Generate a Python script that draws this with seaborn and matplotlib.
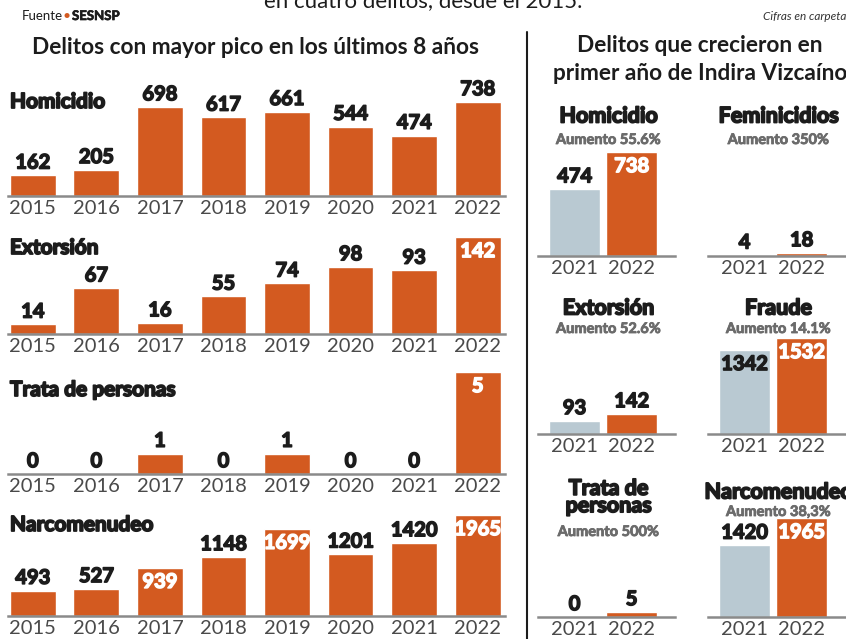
import matplotlib
matplotlib.use("Agg")
import matplotlib.pyplot as plt
import matplotlib.patheffects as pe
import seaborn as sns
import pandas as pd

# datos
years = ["2015", "2016", "2017", "2018", "2019", "2020", "2021", "2022"]
homicidio = [162, 205, 698, 617, 661, 544, 474, 738]
extorsion = [14, 67, 16, 55, 74, 98, 93, 142]
trata = [0, 0, 1, 0, 1, 0, 0, 5]
narcomenudeo = [493, 527, 939, 1148, 1699, 1201, 1420, 1965]

years_pair = ["2021", "2022"]
fem_pair = [4, 18]
fraude_pair = [1342, 1532]
aumentos = {
    "Homicidio": "Aumento 55.6%",
    "Feminicidios": "Aumento 350%",
    "Extorsión": "Aumento 52.6%",
    "Fraude": "Aumento 14.1%",
    "Trata de\npersonas": "Aumento 500%",
    "Narcomenudeo": "Aumento 38,3%",
}

ORANGE = "#d35a20"
GRAY = "#b9c9d2"
DARK = "#1c1c1c"
W, H = 846, 639

sns.set_theme(style="white")
plt.rcParams["font.family"] = ["Lato", "DejaVu Sans"]

fig = plt.figure(figsize=(W / 100, H / 100), dpi=100)


def fx(x):
    return x / W


def fy(y):
    return 1 - y / H


def heavy(color, lw=1.0):
    return [pe.withStroke(linewidth=lw, foreground=color)]


def style_ax(ax):
    ax.patch.set_alpha(0)
    for s in ["top", "left", "right"]:
        ax.spines[s].set_visible(False)
    ax.spines["bottom"].set_color("#8a8a8a")
    ax.spines["bottom"].set_linewidth(1.8)
    ax.set_yticks([])
    ax.set_ylabel("")
    ax.set_xlabel("")
    ax.tick_params(axis="x", length=0, pad=3, labelsize=14.5, labelcolor="#4a4a4a")


def put_label(ax, i, v, inside, color):
    if inside:
        ax.annotate(str(v), (i, v), xytext=(0, -3), textcoords="offset points",
                    ha="center", va="top", color=color, fontsize=14.5,
                    fontweight="bold", path_effects=heavy(color, 1.1))
    else:
        ax.annotate(str(v), (i, v), xytext=(0, 2), textcoords="offset points",
                    ha="center", va="bottom", color=color, fontsize=14.5,
                    fontweight="bold", path_effects=heavy(color, 1.1))


# panel izquierdo
left_rows = [
    ("Homicidio", homicidio, 196, 94, 102, []),
    ("Extorsión", extorsion, 334, 97, 248, [7]),
    ("Trata de personas", trata, 474, 102, 390, [7]),
    ("Narcomenudeo", narcomenudeo, 616, 101, 525, [2, 4, 7]),
]
for name, vals, base, pxmax, ylab, inside in left_rows:
    ax = fig.add_axes([fx(8), (H - base) / H, (505 - 8) / W, 110 / H])
    df = pd.DataFrame({"year": years, "value": vals})
    sns.barplot(data=df, x="year", y="value", color=ORANGE, width=0.72,
                saturation=1, ax=ax)
    ax.set_xlim(-0.39, 7.43)
    ax.set_ylim(0, max(vals) * 110 / pxmax)
    style_ax(ax)
    for i, v in enumerate(vals):
        put_label(ax, i, v, i in inside, "white" if i in inside else DARK)
    fig.text(fx(10), fy(ylab), name, ha="left", va="center", fontsize=15,
             fontweight="bold", color=DARK, path_effects=heavy(DARK, 1.3))

# panel derecho
right_charts = [
    ("Homicidio", homicidio[-2:], 538, 675, 256, 104, 116, 140, [1]),
    ("Feminicidios", fem_pair, 708, 845, 256, 3, 116, 140, []),
    ("Extorsión", extorsion[-2:], 538, 675, 434, 20, 308, 329, []),
    ("Fraude", fraude_pair, 708, 845, 434, 96, 308, 329, [0, 1]),
    ("Trata de\npersonas", trata[-2:], 538, 675, 617, 5, 497, 532, []),
    ("Narcomenudeo", narcomenudeo[-2:], 708, 845, 617, 99, 492, 512, [1]),
]
for name, vals, x0, x1, base, pxmax, yt, ya, inside in right_charts:
    ax = fig.add_axes([fx(x0), (H - base) / H, (x1 - x0) / W, 110 / H])
    df = pd.DataFrame({"year": years_pair, "value": vals})
    sns.barplot(data=df, x="year", y="value", hue="year", palette=[GRAY, ORANGE],
                width=0.895, saturation=1, legend=False, ax=ax)
    ax.set_xlim(-0.64, 1.76)
    ax.set_ylim(0, max(vals) * 110 / pxmax)
    style_ax(ax)
    for i, v in enumerate(vals):
        col = "white" if (i in inside and i == 1) else DARK
        put_label(ax, i, v, i in inside, col)
    cx = (x0 + x1) / 2 + 2
    fig.text(fx(cx), fy(yt), name, ha="center", va="center", fontsize=15.5,
             fontweight="bold", color=DARK, linespacing=0.78,
             path_effects=heavy(DARK, 1.3))
    fig.text(fx(cx), fy(ya), aumentos[name], ha="center", va="center", fontsize=10.5,
             fontweight="bold", color="#6b6b6b", path_effects=heavy("#6b6b6b", 0.6))

# títulos y notas
fig.text(fx(255), fy(47), "Delitos con mayor pico en los últimos 8 años",
         ha="center", va="center", fontsize=16.3, fontweight="bold", color=DARK)
fig.text(fx(700), fy(45), "Delitos que crecieron en", ha="center", va="center",
         fontsize=16.3, fontweight="bold", color=DARK)
fig.text(fx(700), fy(73), "primer año de Indira Vizcaíno", ha="center", va="center",
         fontsize=16.3, fontweight="bold", color=DARK)
fig.text(fx(423), fy(7), "en cuatro delitos, desde el 2015.", ha="center",
         va="baseline", fontsize=16, color=DARK)
fig.text(fx(22), fy(16), "Fuente", ha="left", va="center", fontsize=9.5, color=DARK)
fig.text(fx(62), fy(16), "•", ha="left", va="center", fontsize=10, color=ORANGE)
fig.text(fx(72), fy(16), "SESNSP", ha="left", va="center", fontsize=9.5,
         fontweight="bold", color=DARK, path_effects=heavy(DARK, 0.5))
fig.text(fx(846), fy(16), "Cifras en carpeta", ha="right", va="center", fontsize=8.5,
         style="italic", color="#333333")
fig.add_artist(plt.Line2D([fx(527), fx(527)], [fy(32), fy(639)], color=DARK, lw=1.5))

fig.savefig("out.png", dpi=100)
